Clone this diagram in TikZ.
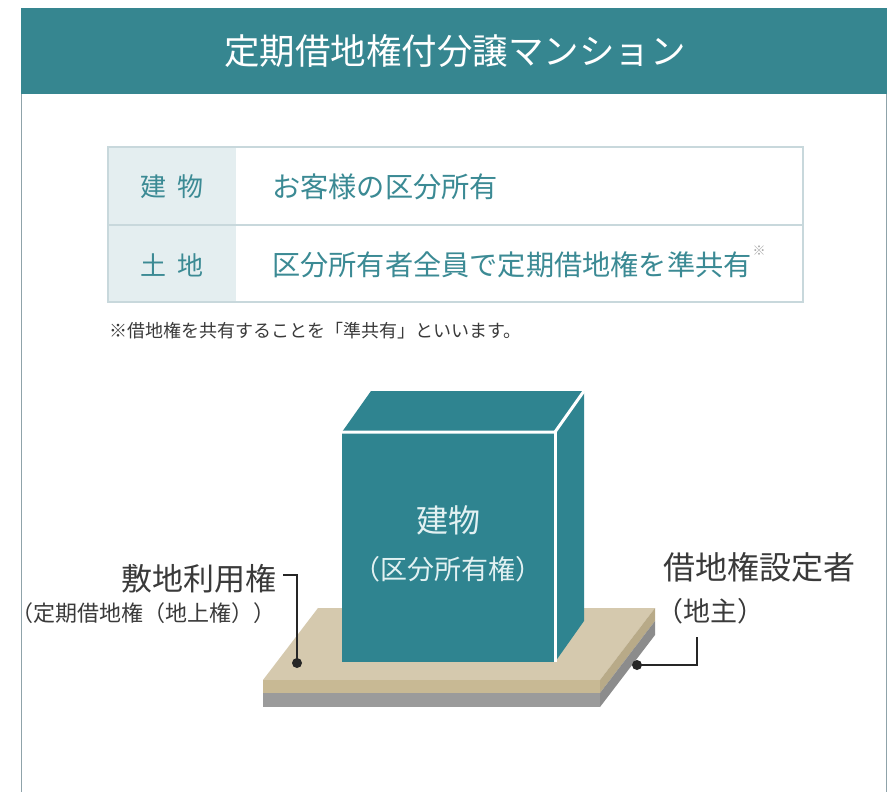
\documentclass[tikz,border=0pt]{standalone}
\usepackage{fontspec}
\newfontfamily\jp{Noto Sans CJK JP}
\definecolor{teal1}{HTML}{368690}
\definecolor{bldg}{HTML}{2F8490}
\definecolor{frameline}{HTML}{8FA3AA}
\definecolor{tblborder}{HTML}{C8D8DC}
\definecolor{tblhead}{HTML}{E4EEF0}
\definecolor{tbltext}{HTML}{3B8A94}
\definecolor{labeltext}{HTML}{3A3A3A}
\definecolor{slabtop}{HTML}{D5C9AE}
\definecolor{slabside}{HTML}{C8B994}
\definecolor{slabgray}{HTML}{9B9B9B}
\definecolor{slabgraydk}{HTML}{8C8C8C}
\definecolor{bldgtext}{HTML}{E2F1F2}
\tikzset{
  txt/.style={inner sep=0pt, font=\jp},
  leader/.style={draw=black!85, line width=1.3pt},
  dotmark/.style={fill=black!85},
}
\begin{document}
\begin{tikzpicture}[x=1pt,y=-1pt]
  % canvas
  \fill[white] (0,0) rectangle (890,792);
  \useasboundingbox (0,0) rectangle (890,792);

  % outer frame and header band
  \draw[frameline, line width=1.8pt] (21.5,94) -- (21.5,792);
  \draw[frameline, line width=1.8pt] (886.5,94) -- (886.5,792);
  \fill[teal1] (21,8) rectangle (887,94);
  \node[txt, text=white, font=\jp\fontsize{35.5}{35.5}\selectfont] (title) at (455,51) {定期借地権付分譲マンション};

  % ownership table
  \fill[tblhead] (108,147) rectangle (236,302);
  \draw[tblborder, line width=1.6pt] (108,147) rectangle (803,302);
  \draw[tblborder, line width=1.6pt] (108,225) -- (803,225);
  \node[txt, text=tbltext, font=\jp\fontsize{26}{26}\selectfont] (rowA) at (172,187) {建\kern12pt 物};
  \node[txt, text=tbltext, font=\jp\fontsize{26}{26}\selectfont] (rowB) at (172,265) {土\kern12pt 地};
  \node[txt, anchor=west, text=tbltext, font=\jp\fontsize{28.2}{28.2}\selectfont] (valA) at (272,187) {お客様の区分所有};
  \node[txt, anchor=west, text=tbltext, font=\jp\fontsize{28.2}{28.2}\selectfont] (valB) at (272,265) {区分所有者全員で定期借地権を準共有};
  \node[txt, text=black!35, font=\jp\fontsize{13}{13}\selectfont] (mark) at (759,251) {※};
  \node[txt, anchor=west, text=labeltext, font=\jp\fontsize{18}{18}\selectfont] (note) at (109,331) {※借地権を共有することを「準共有」といいます。};

  % land slab
  \fill[slabtop] (263,680) -- (600,680) -- (655,608) -- (318,608) -- cycle;
  \fill[slabside] (263,680) rectangle (600,693);
  \fill[slabgray] (263,693) rectangle (600,707);
  \fill[slabside!92!black] (600,680) -- (655,608) -- (655,621) -- (600,693) -- cycle;
  \fill[slabgraydk] (600,693) -- (655,621) -- (655,635) -- (600,707) -- cycle;

  % building block
  \fill[bldg] (342,432) -- (555,432) -- (584,391) -- (371,391) -- cycle;
  \fill[bldg] (555,432) -- (584,391) -- (584,621) -- (555,662) -- cycle;
  \fill[bldg] (342,432) rectangle (555,662);
  \draw[white, line width=3pt, line join=miter] (342,432) -- (555,432) -- (584,391);
  \draw[white, line width=3pt] (555,432) -- (555,662);
  \node[txt, text=bldgtext, font=\jp\fontsize{32}{32}\selectfont] (bname) at (448,520) {建物};
  \node[txt, text=bldgtext, font=\jp\fontsize{27}{27}\selectfont] (bright) at (448,569) {（区分所有権）};

  % site-use right label and leader
  \node[txt, anchor=east, text=labeltext, font=\jp\fontsize{31}{31}\selectfont] (site) at (277,579) {敷地利用権};
  \node[txt, anchor=east, text=labeltext, font=\jp\fontsize{22}{22}\selectfont] (sitesub) at (276,613) {（定期借地権（地上権））};
  \coordinate (lstart) at (283,575);
  \coordinate (lbend) at (297,575);
  \coordinate (ldot) at (297,663);
  \draw[leader] (lstart) -- (lbend) -- (ldot);
  \fill[dotmark] (ldot) circle (5);

  % landowner label and leader
  \node[txt, anchor=west, text=labeltext, font=\jp\fontsize{32}{32}\selectfont] (owner) at (663,567) {借地権設定者};
  \node[txt, anchor=west, text=labeltext, font=\jp\fontsize{27}{27}\selectfont] (ownersub) at (656,611) {（地主）};
  \coordinate (rdot) at (637,665);
  \coordinate (rbend) at (697,665);
  \coordinate (rend) at (697,637);
  \draw[leader] (rdot) -- (rbend) -- (rend);
  \fill[dotmark] (rdot) circle (5);
\end{tikzpicture}
\end{document}
